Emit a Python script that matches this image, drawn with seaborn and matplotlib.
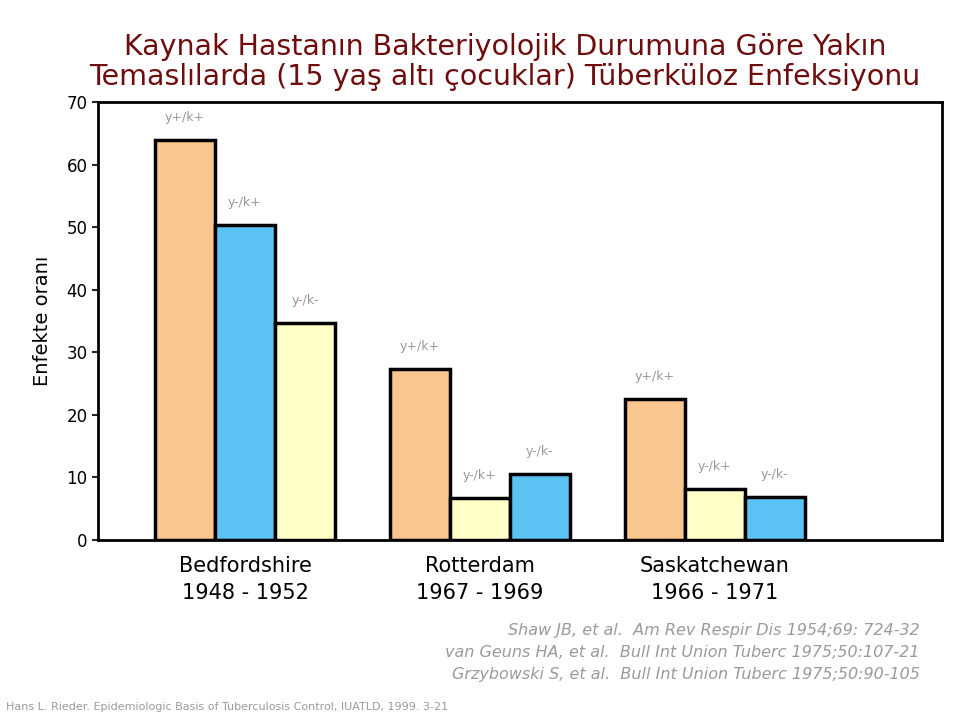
import matplotlib
matplotlib.use('Agg')
import matplotlib.pyplot as plt
import pandas as pd
import seaborn as sns

# data
groups = ['Bedfordshire\n1948 - 1952', 'Rotterdam\n1967 - 1969', 'Saskatchewan\n1966 - 1971']
kinds = ['y+/k+', 'y-/k+', 'y-/k-']
values = [[64, 50.4, 34.7],
          [27.4, 6.7, 10.6],
          [22.6, 8.2, 6.9]]
# bar colour depends on the slot in the original, not on the kind
bar_labels = [['y+/k+', 'y-/k+', 'y-/k-'],
              ['y+/k+', 'y-/k+', 'y-/k-'],
              ['y+/k+', 'y-/k+', 'y-/k-']]
bar_colors = [['#F9C690', '#5BC3F4', '#FFFFC8'],
              ['#F9C690', '#FFFFC8', '#5BC3F4'],
              ['#F9C690', '#FFFFC8', '#5BC3F4']]
refs = ['Shaw JB, et al.  Am Rev Respir Dis 1954;69: 724-32',
        'van Geuns HA, et al.  Bull Int Union Tuberc 1975;50:107-21',
        'Grzybowski S, et al.  Bull Int Union Tuberc 1975;50:90-105']
source = 'Hans L. Rieder. Epidemiologic Basis of Tuberculosis Control, IUATLD, 1999. 3-21'

rows = []
for g, vals, labs in zip(groups, values, bar_labels):
    for v, k in zip(vals, labs):
        rows.append({'group': g, 'kind': k, 'value': v})
df = pd.DataFrame(rows)

sns.set_style('white')
plt.rcParams['font.family'] = ['DejaVu Sans']

fig = plt.figure(figsize=(9.6, 7.2), dpi=100)
ax = fig.add_axes([0.102, 0.25, 0.879, 0.608])

sns.barplot(data=df, x='group', y='value', hue='kind', order=groups, hue_order=kinds,
            width=0.766, dodge=True, gap=0, legend=False, ax=ax,
            edgecolor='black', linewidth=2.5, saturation=1)

# recolour each bar by its slot and put the small label on top
for j, cont in enumerate(ax.containers):
    for i, bar in enumerate(cont):
        bar.set_facecolor(bar_colors[i][j])
        ax.text(bar.get_x() + bar.get_width() / 2, bar.get_height() + 2.5, bar_labels[i][j],
                ha='center', va='bottom', fontsize=9, color='#999999')

ax.set_xlim(-0.626, 2.966)
ax.set_ylim(0, 70)
ax.set_yticks(range(0, 71, 10))
ax.tick_params(axis='y', left=True, direction='out', length=4, width=1.5, labelsize=12,
               labelcolor='black')
ax.tick_params(axis='x', bottom=False, labelsize=15, pad=8, labelcolor='black')
for lab in ax.get_xticklabels():
    lab.set_linespacing(1.45)
for s in ax.spines.values():
    s.set_visible(True)
    s.set_color('black')
    s.set_linewidth(2)
ax.set_xlabel('')
ax.set_ylabel('Enfekte oranı', fontsize=14, labelpad=10, color='black')

fig.text(0.526, 0.914, 'Kaynak Hastanın Bakteriyolojik Durumuna Göre Yakın\n'
         'Temaslılarda (15 yaş altı çocuklar) Tüberküloz Enfeksiyonu',
         ha='center', va='center', fontsize=20.5, color='#6E0D0D', linespacing=1.1)

for n, r in enumerate(refs):
    fig.text(0.958, 0.125 - n * 0.031, r, ha='right', va='center', fontsize=11.5,
             style='italic', color='#9A9A9A')
fig.text(0.006, 0.018, source, ha='left', va='center', fontsize=8, color='#9A9A9A')

fig.savefig('out.png', dpi=100)
